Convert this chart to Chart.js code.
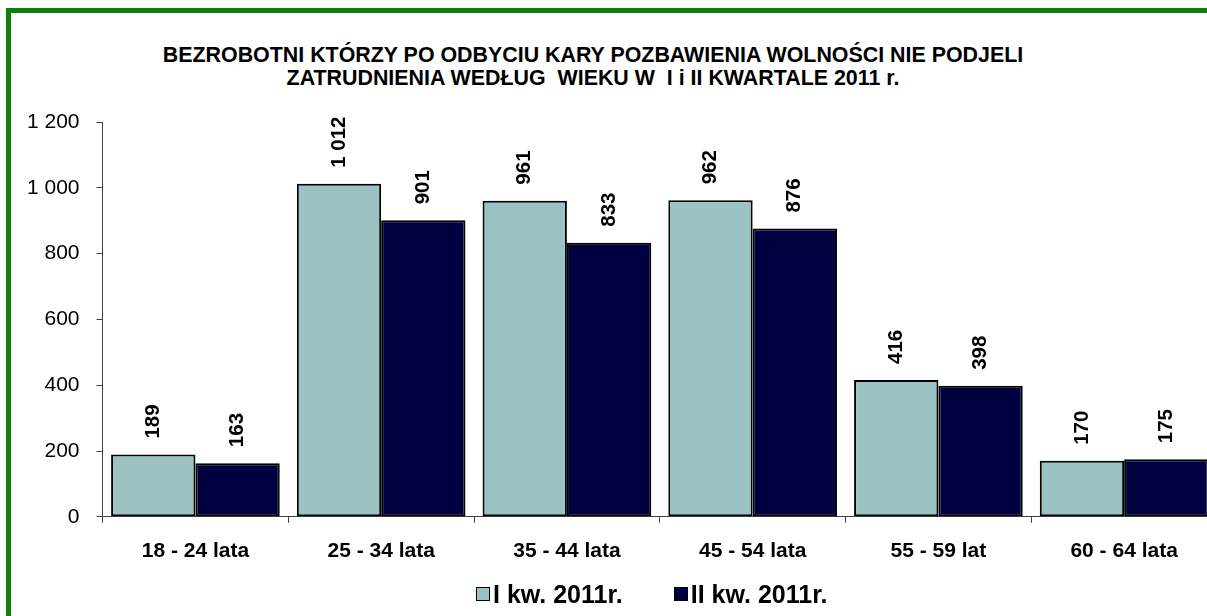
<!DOCTYPE html>
<html lang="pl">
<head>
  <meta charset="UTF-8">
  <title>Bezrobotni po odbyciu kary</title>
  <script src="https://cdn.jsdelivr.net/npm/chart.js"></script>
  <style>
    html, body { margin: 0; padding: 0; background: #fff; overflow: hidden; }
    body { width: 1207px; height: 616px; position: relative; font-family: 'Liberation Sans', Arial, sans-serif; }
    #frame { position: absolute; left: 6px; top: 8px; width: 1400px; height: 800px; border: 5px solid #0b800b; }
    #title { position: absolute; left: 0; top: 44px; width: 1186px; text-align: center; font-weight: bold; font-size: 21.4px; line-height: 23px; color: #000; white-space: pre; }
    #box { position: absolute; left: 0; top: 0; width: 1217px; height: 616px; }
    #legend { position: absolute; left: 476px; top: 580px; display: flex; align-items: center; font-weight: bold; font-size: 25px; line-height: 28px; color: #000; }
    .item { display: flex; align-items: center; margin-right: 51px; }
    .swatch { width: 12px; height: 12px; border: 1px solid #000; margin-right: 3px; }
  </style>
</head>
<body>
  <div id="frame"></div>
  <div id="title"></div>
  <div id="box"><canvas id="chart"></canvas></div>
  <div id="legend"></div>
  <script>
    const titleLines = [
      'BEZROBOTNI KTÓRZY PO ODBYCIU KARY POZBAWIENIA WOLNOŚCI NIE PODJELI',
      'ZATRUDNIENIA WEDŁUG  WIEKU W  I i II KWARTALE 2011 r.'
    ];
    const categories = ['18 - 24 lata', '25 - 34 lata', '35 - 44 lata', '45 - 54 lata', '55 - 59 lat', '60 - 64 lata'];
    const seriesNames = ['I kw. 2011r.', 'II kw. 2011r.'];
    const q1Values = [189, 1012, 961, 962, 416, 170];
    const q2Values = [163, 901, 833, 876, 398, 175];
    const yTicks = [0, 200, 400, 600, 800, 1000, 1200];

    const FONT = "'Liberation Sans', Arial, sans-serif";
    const fmt = v => String(v).replace(/\B(?=(\d{3})+(?!\d))/g, ' ');

    document.getElementById('title').textContent = titleLines.join('\n');

    // value labels, rotated, above each bar
    const barLabels = {
      id: 'barLabels',
      afterDatasetsDraw(chart) {
        const c = chart.ctx;
        c.save();
        c.font = 'bold 20.5px ' + FONT;
        c.fillStyle = '#000';
        c.textAlign = 'left';
        c.textBaseline = 'middle';
        chart.data.datasets.forEach((ds, i) => {
          chart.getDatasetMeta(i).data.forEach((bar, j) => {
            c.save();
            c.translate(bar.x, bar.y - 16);
            c.rotate(-Math.PI / 2);
            c.fillText(fmt(ds.data[j]), 0, 0);
            c.restore();
          });
        });
        c.restore();
      }
    };

    const chart = new Chart(document.getElementById('chart'), {
      type: 'bar',
      data: {
        labels: categories,
        datasets: [
          { label: seriesNames[0], data: q1Values, backgroundColor: '#9cc3c3', borderColor: '#000', borderWidth: 2, borderSkipped: false },
          { label: seriesNames[1], data: q2Values, backgroundColor: '#000040', borderColor: '#000', borderWidth: 2, borderSkipped: false }
        ]
      },
      options: {
        responsive: true,
        maintainAspectRatio: false,
        animation: false,
        layout: { padding: { left: 10, top: 122, right: 0, bottom: 36 } },
        datasets: { bar: { categoryPercentage: 0.908, barPercentage: 1.0 } },
        plugins: {
          legend: { display: false },
          title: { display: false },
          tooltip: { enabled: false }
        },
        scales: {
          x: {
            grid: { display: true, drawOnChartArea: false, drawTicks: true, tickLength: 6, color: '#404040' },
            border: { display: true, color: '#404040', width: 1 },
            ticks: { color: '#000', padding: 16, font: { family: FONT, size: 21, weight: 'bold' } }
          },
          y: {
            min: 0,
            max: 1200,
            afterBuildTicks: axis => { axis.ticks = yTicks.map(v => ({ value: v })); },
            grid: { display: true, drawOnChartArea: false, drawTicks: true, tickLength: 6, color: '#404040' },
            border: { display: true, color: '#404040', width: 1 },
            ticks: { color: '#000', padding: 17, font: { family: FONT, size: 21 }, callback: v => fmt(v) }
          }
        }
      },
      plugins: [barLabels]
    });

    const legendDiv = document.getElementById('legend');
    chart.data.datasets.forEach(ds => {
      const item = document.createElement('div');
      item.className = 'item';
      const sw = document.createElement('span');
      sw.className = 'swatch';
      sw.style.background = ds.backgroundColor;
      const txt = document.createElement('span');
      txt.textContent = ds.label;
      item.appendChild(sw);
      item.appendChild(txt);
      legendDiv.appendChild(item);
    });
  </script>
</body>
</html>
